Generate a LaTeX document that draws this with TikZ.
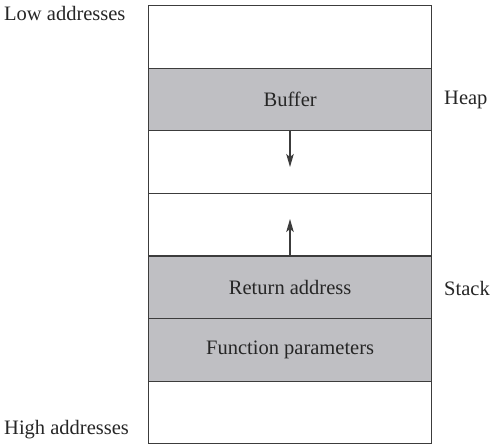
\documentclass[tikz,border=0pt]{standalone}
\usepackage{fontspec}
\setmainfont{Liberation Serif}
\usetikzlibrary{arrows.meta}
\definecolor{cellgray}{RGB}{191,191,195}
\definecolor{linegray}{RGB}{60,60,60}
\begin{document}
\begin{tikzpicture}[x=1pt,y=-1pt,
  cell/.style={draw=linegray,line width=1.3pt,fill=white,minimum width=283pt,minimum height=62.6pt,inner sep=0pt,anchor=north west,font=\fontsize{20.5}{23}\selectfont,text=black!85},
  graycell/.style={cell,fill=cellgray},
  lbl/.style={font=\fontsize{20.5}{23}\selectfont,text=black!85,inner sep=0pt},
  growth/.style={draw=linegray,line width=1.3pt,-{Stealth[length=13pt,width=7.5pt,inset=3pt]}}]
\useasboundingbox (0,0) rectangle (491,444);
\node[cell] (r1) at (148,5) {};
\node[graycell] (r2) at (148,67.6) {Buffer};
\node[cell] (r3) at (148,130.2) {};
\node[cell] (r4) at (148,192.8) {};
\node[graycell] (r5) at (148,255.4) {Return address};
\node[graycell] (r6) at (148,318) {Function parameters};
\node[cell] (r7) at (148,380.6) {};
\coordinate (dtip) at (290,167);
\coordinate (utip) at (290,219);
\draw[growth] (r2.south -| dtip) -- (dtip);
\draw[growth] (r5.north -| utip) -- (utip);
\node[lbl,anchor=west] (low) at (4,13) {Low addresses};
\node[lbl,anchor=west] (high) at (4,430) {High addresses};
\node[lbl,anchor=west] (heap) at (444,100) {Heap};
\node[lbl,anchor=west] (stack) at (444,288) {Stack};
\end{tikzpicture}
\end{document}
